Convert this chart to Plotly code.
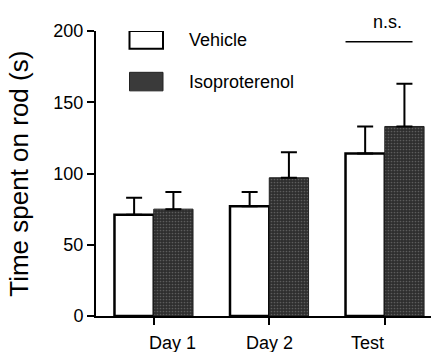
import plotly.graph_objects as go

categories = ["Day 1", "Day 2", "Test"]
vehicle = [71, 77, 114]
vehicle_err = [12, 10, 19]
iso = [75, 97, 133]
iso_err = [12, 18, 30]
legend_names = ["Vehicle", "Isoproterenol"]
y_title = "Time spent on rod (s)"
label_shift = [0.165, 0.0, -0.147]

xpos = [0, 1, 2]
w = 0.34

fig = go.Figure()
fig.add_bar(x=[p - w / 2 for p in xpos], y=vehicle, width=w, name=legend_names[0],
            marker=dict(color="white", line=dict(color="black", width=2.5)),
            error_y=dict(type="data", symmetric=False, array=vehicle_err,
                         arrayminus=[0] * 3, color="black", thickness=2, width=8),
            showlegend=False)
fig.add_bar(x=[p + w / 2 for p in xpos], y=iso, width=w, name=legend_names[1],
            marker=dict(color="#333333", line=dict(color="#222222", width=1),
                        pattern=dict(shape=".", fgcolor="#8a8a8a", bgcolor="#2e2e2e",
                                     size=3, solidity=0.25)),
            error_y=dict(type="data", symmetric=False, array=iso_err,
                         arrayminus=[0] * 3, color="black", thickness=2, width=8),
            showlegend=False)

shapes = [
    dict(type="rect", xref="paper", yref="y", x0=0.10, x1=0.20, y0=187.5, y1=200,
         fillcolor="white", line=dict(color="black", width=2)),
    dict(type="rect", xref="paper", yref="y", x0=0.10, x1=0.20, y0=158, y1=171,
         fillcolor="#3a3a3a", line=dict(color="#222222", width=1)),
    dict(type="line", xref="x", yref="y", x0=1.66, x1=2.24, y0=192.5, y1=192.5,
         line=dict(color="black", width=1.5)),
]

annotations = [
    dict(x=0.272, y=193.5, xref="paper", yref="y", text=legend_names[0], showarrow=False,
         xanchor="left", yanchor="middle", font=dict(size=18)),
    dict(x=0.272, y=164, xref="paper", yref="y", text=legend_names[1], showarrow=False,
         xanchor="left", yanchor="middle", font=dict(size=18)),
    dict(x=2.02, y=1.032, xref="x", yref="paper", text="n.s.", showarrow=False,
         xanchor="center", yanchor="middle", font=dict(size=18)),
    dict(x=-0.232, y=0.50, xref="paper", yref="paper", text=y_title, showarrow=False,
         textangle=-90, xanchor="center", yanchor="middle", font=dict(size=26)),
]
for p, s, c in zip(xpos, label_shift, categories):
    annotations.append(dict(x=p + s, y=-0.094, xref="x", yref="paper", text=c,
                            showarrow=False, xanchor="center", yanchor="middle",
                            font=dict(size=18)))

fig.update_layout(
    width=431, height=352,
    margin=dict(l=96, r=0, t=31, b=36),
    plot_bgcolor="white", paper_bgcolor="white",
    barmode="overlay",
    font=dict(family="Liberation Sans, Arial, sans-serif", color="black"),
    shapes=shapes, annotations=annotations,
    xaxis=dict(range=[-0.5, 2.4], tickvals=xpos, showticklabels=False,
               showline=True, linecolor="black", linewidth=2,
               ticks="outside", ticklen=7, tickwidth=1.5, tickcolor="black",
               showgrid=False, zeroline=False),
    yaxis=dict(range=[0, 200], tickvals=[0, 50, 100, 150, 200],
               showline=True, linecolor="black", linewidth=2,
               ticks="outside", ticklen=7, tickwidth=2, tickcolor="black",
               tickfont=dict(size=18), showgrid=False, zeroline=False),
)

fig.write_html("out.html")
